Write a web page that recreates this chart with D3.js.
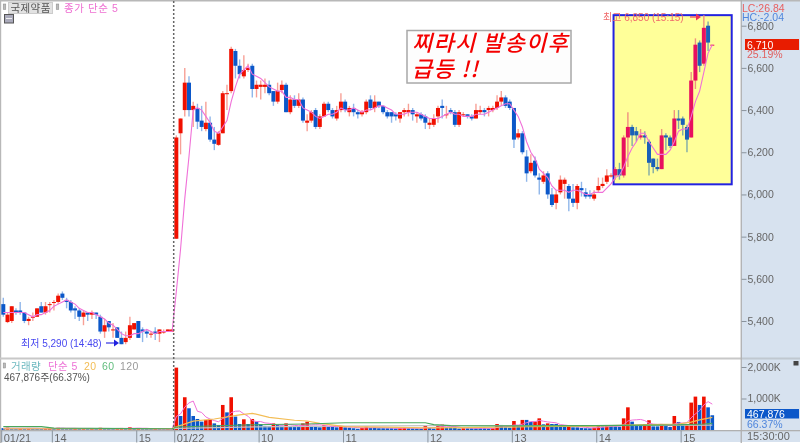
<!DOCTYPE html>
<html><head><meta charset="utf-8">
<style>html,body{margin:0;padding:0;background:#fff}svg{display:block;filter:blur(0.3px)}text{font-family:"Liberation Sans","Noto Sans CJK KR",sans-serif}</style>
<script src="https://cdn.jsdelivr.net/npm/d3@7/dist/d3.min.js"></script></head><body><svg id="c" width="800" height="443"></svg>
<script>
const opens=[5480,5395,5400,5450,5450,5440,5400,5420,5420,5470,5440,5480,5490,5490,5530,5500,5490,5460,5450,5420,5440,5430,5440,5420,5350,5400,5360,5370,5320,5300,5320,5360,5400,5360,5350,5340,5350,5340,5350,5350,5350,
5790,6290,6400,6530,6400,6410,6350,6310,6340,6260,6235,6290,6480,6490,6680,6610,6560,6590,6610,6500,6510,6510,6520,6490,6440,6495,6520,6390,6450,6420,6450,6340,6350,6400,6320,6370,6430,6400,6360,6400,6440,6390,6410,6390,6380,6390,6450,6410,6440,6420,6390,6390,6380,6360,6390,6390,6400,6370,6380,6370,6330,6330,6370,6420,6380,6400,6390,6330,6380,6380,6370,6360,6390,6400,6400,6400,6410,6440,6460,6440,6410,6270,6290,6180,6110,6160,6080,6060,6100,6000,5960,6010,6050,6040,5980,5960,6030,6010,6000,5980,6020,6040,6060,6090,6090,6120,6090,6270,6320,6300,6270,6280,6250,6170,6130,6120,6280,6270,6230,6360,6360,6320,6270,6540,6720,6620,6800,6710];
const highs=[5510,5440,5470,5460,5490,5440,5420,5440,5460,5490,5490,5490,5500,5530,5540,5510,5500,5470,5460,5450,5440,5450,5440,5430,5410,5400,5390,5370,5350,5350,5420,5390,5400,5370,5360,5350,5370,5360,5360,5360,5360,
6280,6360,6600,6560,6440,6430,6420,6440,6370,6320,6300,6490,6520,6700,6690,6640,6660,6620,6620,6540,6540,6550,6540,6490,6530,6540,6530,6470,6470,6480,6460,6380,6400,6410,6380,6440,6440,6410,6420,6480,6450,6420,6430,6400,6400,6450,6470,6470,6440,6420,6400,6390,6390,6390,6410,6430,6410,6390,6390,6380,6360,6380,6420,6450,6420,6410,6400,6400,6390,6380,6380,6430,6420,6410,6420,6420,6470,6490,6470,6450,6410,6310,6300,6210,6190,6180,6100,6110,6110,6030,6020,6090,6080,6050,6050,6050,6060,6030,6020,6020,6080,6080,6120,6100,6130,6150,6280,6390,6330,6320,6310,6300,6260,6170,6170,6310,6290,6280,6400,6400,6370,6330,6580,6740,6730,6850,6820,6710];
const lows=[5420,5390,5390,5430,5430,5390,5380,5400,5420,5440,5430,5440,5450,5480,5500,5460,5440,5410,5400,5380,5400,5410,5410,5340,5320,5350,5320,5320,5290,5290,5310,5360,5320,5300,5320,5320,5310,5300,5340,5350,5350,
5790,6190,6370,6370,6320,6310,6300,6300,6250,6210,6230,6290,6400,6480,6550,6550,6550,6580,6460,6460,6450,6480,6470,6420,6430,6480,6390,6380,6410,6410,6340,6300,6340,6310,6310,6370,6390,6360,6350,6390,6390,6370,6370,6360,6370,6380,6400,6390,6410,6380,6360,6340,6350,6340,6370,6370,6350,6340,6350,6310,6310,6320,6340,6360,6360,6380,6320,6320,6370,6360,6350,6360,6380,6370,6370,6390,6400,6420,6410,6400,6220,6260,6190,6060,6100,6080,6000,6050,5980,5940,5930,6000,5980,5920,5940,5930,5990,5980,5980,5970,6010,6030,6050,6080,6070,6070,6080,6130,6230,6250,6260,6240,6090,6100,6110,6120,6210,6220,6230,6310,6280,6200,6270,6500,6580,6610,6680,6710];
const closes=[5430,5430,5470,5440,5440,5400,5410,5420,5460,5440,5470,5480,5490,5520,5510,5490,5450,5450,5420,5440,5430,5440,5430,5350,5380,5370,5360,5320,5290,5320,5380,5390,5320,5350,5340,5340,5340,5360,5350,5360,5360,
6270,6360,6530,6400,6420,6345,6320,6340,6260,6240,6290,6480,6480,6690,6610,6570,6590,6600,6500,6520,6520,6520,6480,6440,6490,6520,6390,6450,6420,6450,6350,6350,6390,6320,6370,6430,6400,6370,6400,6440,6400,6410,6390,6380,6390,6440,6410,6440,6420,6390,6370,6370,6370,6390,6400,6400,6380,6380,6360,6340,6340,6360,6410,6410,6380,6390,6330,6390,6380,6370,6360,6400,6400,6390,6410,6410,6440,6460,6420,6410,6260,6290,6200,6100,6150,6090,6070,6090,6000,5950,6000,6070,6070,5980,5960,6040,6020,5990,5990,6000,6040,6050,6090,6090,6120,6090,6270,6320,6280,6280,6280,6270,6150,6130,6120,6280,6270,6230,6360,6350,6330,6260,6540,6710,6610,6790,6720,6710];
const closeMa5=[5440,5440,5440,5440,5440,5440,5430,5420,5430,5430,5440,5450,5470,5480,5490,5500,5490,5480,5460,5450,5440,5440,5430,5420,5410,5390,5380,5360,5340,5330,5330,5340,5340,5350,5360,5350,5340,5350,5350,5350,5350,
5540,5740,5980,6180,6400,6410,6400,6370,6340,6300,6290,6320,6350,6440,6510,6570,6590,6610,6570,6560,6550,6530,6510,6500,6490,6490,6460,6460,6450,6450,6410,6400,6390,6370,6360,6370,6380,6380,6390,6410,6400,6400,6410,6400,6390,6400,6400,6410,6420,6420,6410,6400,6380,6380,6380,6390,6390,6390,6380,6370,6360,6360,6360,6370,6380,6390,6380,6380,6370,6370,6370,6380,6380,6380,6390,6400,6410,6420,6430,6430,6400,6370,6320,6250,6200,6170,6120,6100,6080,6040,6020,6020,6020,6010,6020,6020,6010,6000,6000,6010,6010,6010,6030,6050,6080,6090,6130,6180,6220,6250,6290,6290,6250,6220,6190,6190,6190,6210,6250,6300,6310,6310,6370,6440,6490,6580,6670,6710];
const volumes=[60,75,55,45,60,50,65,50,45,40,55,60,45,70,65,50,40,60,45,55,40,50,35,70,60,40,35,55,65,50,85,55,60,40,35,30,35,30,25,30,25,
1980,445,1040,690,445,350,265,320,350,210,160,795,560,1040,425,190,340,190,350,265,190,130,130,210,160,140,210,130,95,95,210,265,130,130,85,160,105,105,85,130,85,75,55,40,75,105,75,75,55,55,55,55,50,60,75,55,50,45,40,130,65,45,140,170,85,85,75,45,55,55,55,55,55,55,50,55,190,160,85,75,285,160,320,320,255,265,370,180,210,190,190,95,95,135,85,85,65,55,55,75,130,115,135,125,115,105,370,720,265,160,160,190,310,115,115,180,125,95,445,255,180,190,870,1060,795,1060,720,468];
const volMa5=[50,55,55,55,55,55,55,55,55,50,50,50,50,55,60,55,55,55,50,50,50,50,45,50,50,50,45,50,50,50,55,55,60,55,55,45,40,35,35,30,30,
430,510,730,860,920,594,558,414,346,299,261,367,415,553,596,602,511,437,299,267,267,225,213,185,164,154,170,170,147,134,148,159,159,166,164,154,122,117,108,117,102,96,86,77,66,70,70,74,77,72,66,62,55,56,58,60,60,58,52,68,72,70,86,110,101,105,111,92,69,63,59,53,55,55,54,54,81,102,108,113,159,153,185,232,268,264,306,278,256,243,228,173,156,141,120,99,93,85,69,67,76,86,102,116,124,119,170,287,315,324,335,299,217,187,178,182,169,126,192,220,220,233,388,511,619,795,901,821];
const vol20Idx=[0,40,41,45,50,56,59,63,69,72,75,81,90,100,110,125,140,150,160,163,165,168];
const vol20=[40,40,100,280,350,480,530,400,310,285,210,110,90,70,75,105,125,160,190,250,320,400];
const vol60Idx=[0,9,12,40,41,55,63,72,81,100,102,106,120,140,160,166,168];
const vol60=[110,105,60,40,95,150,175,190,230,230,170,140,130,140,160,190,210];
const vol120Idx=[0,40,41,60,80,100,120,140,168];
const vol120=[35,35,50,100,125,140,140,140,155];
const priceTicks=[5400,5600,5800,6000,6200,6400,6600,6800];
const volumeTicks=[1000,2000];
const timeTickIdx=[0,12,32,41,61,81,101,121,141,161];
const timeLabels=["01/21","14","15","01/22","10","11","12","13","14","15"];
const legendVolume=[["거래량","#6cb8bf",11],["단순 5","#ec72d6",48],["20","#f3bd55",84],["60","#62bd7e",102],["120","#9a9a9a",120]];

const svg=d3.select("#c");
const idx=d3.range(opens.length);
const x=d3.scaleLinear().domain([0,168]).range([3.3,712.3]);
const y=d3.scaleLinear().domain([5400,6800]).range([321,25.7]);
const yv=d3.scaleLinear().domain([0,2000]).range([430,367]);
const step=x(1)-x(0), bw=4;
const RED="#f01000",BLUE="#0b57c9",PINK="#f070d8";

// panels
svg.append("rect").attr("x",741).attr("y",0).attr("width",59).attr("height",443).attr("fill","#d7e2ef");
svg.append("rect").attr("x",0).attr("y",430).attr("width",800).attr("height",12).attr("fill","#d7e2ef");
svg.append("rect").attr("x",0).attr("y",442).attr("width",800).attr("height",1).attr("fill","#fff");
svg.append("rect").attr("x",0).attr("y",0).attr("width",800).attr("height",1.5).attr("fill","#b8b8b8");
svg.append("rect").attr("x",0).attr("y",0).attr("width",1.2).attr("height",443).attr("fill","#b8b8b8");
svg.append("rect").attr("x",0).attr("y",357.5).attr("width",741).attr("height",2).attr("fill","#c8c8c8");
svg.append("rect").attr("x",741).attr("y",357.5).attr("width",59).attr("height",2).attr("fill","#c0c8d0");
svg.append("rect").attr("x",0).attr("y",430).attr("width",800).attr("height",1.3).attr("fill","#b0b0b0");
svg.append("rect").attr("x",740.6).attr("y",0).attr("width",1.3).attr("height",443).attr("fill","#b0b0b0");

// highlight box
const boxL=144.6,boxR=172.6,boxHi=6850,boxLo=6048;
svg.append("rect").attr("x",x(boxL)).attr("y",y(boxHi)).attr("width",x(boxR)-x(boxL)).attr("height",y(boxLo)-y(boxHi))
  .attr("fill","#ffff99").attr("stroke","#2222e0").attr("stroke-width",2);

// candles
const inBox=i=>i>boxL;
const up=i=>closes[i]>=opens[i];
const g=svg.append("g");
g.selectAll("line.w").data(idx).join("line").attr("class","w")
 .attr("x1",i=>x(i)).attr("x2",i=>x(i)).attr("y1",i=>y(highs[i])).attr("y2",i=>y(lows[i]))
 .attr("stroke-width",1.4)
 .attr("stroke",i=>up(i)?(inBox(i)?"#f09080":"#f7a096"):(inBox(i)?"#7fa9a8":"#8fb6ea"));
g.selectAll("rect.b").data(idx).join("rect").attr("class","b")
 .attr("x",i=>x(i)-bw/2).attr("width",bw)
 .attr("y",i=>y(Math.max(opens[i],closes[i]))).attr("height",i=>Math.max(1,Math.abs(y(opens[i])-y(closes[i]))))
 .attr("fill",i=>up(i)?(inBox(i)?"#e8105f":RED):(inBox(i)?"#1a60b8":BLUE));

// price MA
const maLine=d3.line().x((d,i)=>x(i)).y(d=>y(d));
svg.append("path").datum(closeMa5).attr("d",maLine).attr("fill","none").attr("stroke",PINK).attr("stroke-width",1.1);

// volume bars
g.selectAll("rect.v").data(idx).join("rect").attr("class","v")
 .attr("x",i=>x(i)-1.8).attr("width",3.6)
 .attr("y",i=>yv(volumes[i])).attr("height",i=>yv(0)-yv(volumes[i]))
 .attr("fill",i=>(i>0&&volumes[i]>volumes[i-1])?RED:BLUE);
const sparse=(ids,vals,col,w)=>svg.append("path").datum(ids.map((k,j)=>[k,vals[j]]))
 .attr("d",d3.line().x(d=>x(d[0])).y(d=>yv(d[1]))).attr("fill","none").attr("stroke",col).attr("stroke-width",w);
sparse(vol120Idx,vol120,"#c4c4c4",1.2);
svg.append("path").datum(volMa5).attr("d",d3.line().x((d,i)=>x(i)).y(d=>yv(d))).attr("fill","none").attr("stroke",PINK).attr("stroke-width",1);
sparse(vol20Idx,vol20,"#f3bd55",1.2);
sparse(vol60Idx,vol60,"#4aa85c",1.2);

// dotted day line
svg.append("line").attr("x1",173.7).attr("x2",173.7).attr("y1",1).attr("y2",430).attr("stroke","#666").attr("stroke-width",1.5).attr("stroke-dasharray","2 2");

// axes
const yAxis=d3.axisRight(y).tickValues(priceTicks).tickFormat(d3.format(",")).tickSize(5).tickPadding(1);
const ya=svg.append("g").attr("transform","translate(741.5,0)").call(yAxis);
const vAxis=d3.axisRight(yv).tickValues(volumeTicks).tickFormat(d=>d3.format(",")(d)+"K").tickSize(5).tickPadding(1);
const va=svg.append("g").attr("transform","translate(741.5,0)").call(vAxis);
const xLeft=d3.scaleLinear().domain(x.domain()).range([x(0)-step/2,x(168)-step/2]);
const xAxis=d3.axisBottom(xLeft).tickValues(timeTickIdx).tickFormat((d,i)=>timeLabels[i]).tickSize(12).tickPadding(-10);
const xa=svg.append("g").attr("transform","translate(0,430.5)").call(xAxis);
[ya,va,xa].forEach(a=>{a.select(".domain").remove();a.selectAll("line").attr("stroke","#8a939c");
  a.selectAll("text").attr("fill","#666").style("font-family",'"Liberation Sans","Noto Sans CJK KR",sans-serif').style("font-size","10.5px");});
xa.selectAll("text").attr("text-anchor","start").attr("dx",2).attr("y",1.5).attr("dy","0.9em").style("font-size","11px");

const txt=(s,px,py,col,size,extra)=>{const t=svg.append("text").attr("x",px).attr("y",py).attr("fill",col).style("font-size",size+"px").text(s);if(extra)extra(t);return t;};
const arrow=(x0,x1,py,col)=>{svg.append("line").attr("x1",x0).attr("x2",x1-3).attr("y1",py).attr("y2",py).attr("stroke",col).attr("stroke-width",1.1);
  svg.append("path").attr("d",d3.line()([[x1-5,py-3.5],[x1,py],[x1-5,py+3.5]])+"Z").attr("fill",col);};

// top legend
svg.append("rect").attr("x",3.2).attr("y",4).attr("width",2.6).attr("height",5.5).attr("fill","#bbb").attr("stroke","#888").attr("stroke-width",.5);
svg.append("rect").attr("x",8.5).attr("y",2.5).attr("width",44).attr("height",11).attr("fill","#e2e2e2").attr("stroke","#ccc");
txt("국제약품",10.5,12,"#555",10.5,t=>t.style("letter-spacing","0.4px"));
svg.append("rect").attr("x",56.2).attr("y",4).attr("width",2.6).attr("height",5.5).attr("fill","#bbb").attr("stroke","#888").attr("stroke-width",.5);
txt("종가 단순 5",64,12,"#ee70d2",10.5,t=>t.style("letter-spacing","0.6px"));
svg.append("rect").attr("x",4.5).attr("y",14.5).attr("width",9).attr("height",8.5).attr("fill","#aab").attr("stroke","#555");
svg.append("line").attr("x1",6).attr("x2",12).attr("y1",18.5).attr("y2",18.5).attr("stroke","#eee");

// annotations
txt("최저 5,290 (14:48)",21,346.5,"#4848f0",10);
arrow(106,119,343,"#2020e0");
txt("최고 6,850 (15:15)",603,20.5,"#f06a6a",10);
arrow(690,701,17,"#f0305a");

svg.append("rect").attr("x",407).attr("y",30.5).attr("width",164).attr("height",52.5).attr("fill","#fdfdfd").attr("stroke","#a8a8a8").attr("stroke-width",1.5);
const bold=t=>t.style("font-family",'"Noto Sans CJK KR",sans-serif').style("font-style","italic").style("font-weight","500").style("letter-spacing","1.3px");
txt("찌라시 발송이후",412,51,"#f40000",22,bold);
txt("급등 !!",412,77,"#f40000",22,bold);

// right panel
txt("LC:26.84",742,11.5,"#e86060",10.5);
txt("HC:-2.04",742,21,"#4f86dc",10.5);
svg.append("rect").attr("x",745).attr("y",39).attr("width",54).attr("height",11).attr("fill","#e81c00");
txt("6,710",747,48.5,"#fff",10.5);
txt("25.19%",747,58,"#e06060",10.5);
svg.append("rect").attr("x",745).attr("y",409).attr("width",54).attr("height",9.5).attr("fill","#0b57c9");
txt("467,876",747,417.5,"#fff",10.5);
txt("66.37%",747,428,"#4f86dc",10.5);
txt("15:30:00",747,440,"#666",11);
svg.append("rect").attr("x",793.5).attr("y",361).attr("width",5).attr("height",4.5).attr("fill","#444");

// volume legend
svg.append("rect").attr("x",3.2).attr("y",363).attr("width",2.4).attr("height",5).attr("fill","#bbb").attr("stroke","#888").attr("stroke-width",.5);
legendVolume.forEach(d=>txt(d[0],d[2],370,d[1],10.5,t=>t.style("letter-spacing","0.4px")));
txt("467,876주(66.37%)",4,381,"#555",10);
</script></body></html>
